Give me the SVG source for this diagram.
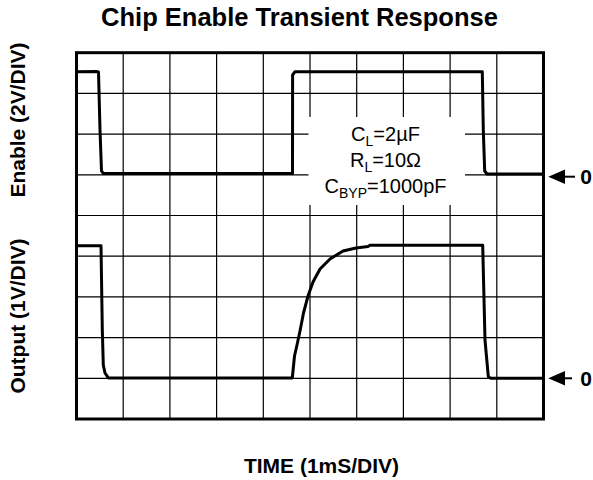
<svg xmlns="http://www.w3.org/2000/svg" width="593" height="480" viewBox="0 0 593 480">
<style>
.bold{font-family:"Liberation Sans",Arial,sans-serif;font-weight:bold;fill:#000}
.reg{font-family:"Liberation Sans",Arial,sans-serif;fill:#000}
.grid{stroke:#000;stroke-width:1.2;fill:none}
.frame{stroke:#000;stroke-width:3;fill:none}
.trace{stroke:#000;stroke-width:3;fill:none;stroke-linejoin:round;stroke-linecap:round}
.arr{stroke:#000;stroke-width:2;fill:none}
.head{fill:#000;stroke:none}
</style>
<rect width="593" height="480" fill="#fff"/>
<g id="title"><text class="bold" x="299.5" y="26" font-size="25.5" text-anchor="middle">Chip Enable Transient Response</text></g>
<g id="grid">
<path class="grid" d="M123.2,52.7V419M169.9,52.7V419M216.6,52.7V419M263.3,52.7V419M310,52.7V419M356.7,52.7V419M403.4,52.7V419M450.1,52.7V419M496.8,52.7V419"/>
<path class="grid" d="M76.5,93.4H543.5M76.5,134.1H543.5M76.5,174.8H543.5M76.5,215.5H543.5M76.5,256.2H543.5M76.5,296.9H543.5M76.5,337.6H543.5M76.5,378.3H543.5"/>
</g>
<g id="legend">
<rect x="308.5" y="117" width="156.5" height="88" fill="#fff"/>
<text class="reg" x="385.5" y="141" font-size="20" text-anchor="middle">C<tspan font-size="14" dy="5">L</tspan><tspan dy="-5">=2µF</tspan></text>
<text class="reg" x="385.5" y="167" font-size="20" text-anchor="middle">R<tspan font-size="14" dy="5">L</tspan><tspan dy="-5">=10Ω</tspan></text>
<text class="reg" x="385.5" y="193" font-size="20" text-anchor="middle">C<tspan font-size="14" dy="5">BYP</tspan><tspan dy="-5">=1000pF</tspan></text>
</g>
<g id="frame"><rect class="frame" x="76.5" y="52.7" width="467" height="366.3"/></g>
<g id="traces">
<path id="enable" class="trace" d="M76.5,71.7 L96,71.5 L98.5,72 L100,130 L101.5,171 L103.5,173.6 L292.5,173.6 L292.6,75 L295,71.7 L482.3,71.7 L483.3,130 L484.7,171 L487,174 L543.5,174"/>
<path id="output" class="trace" d="M76.5,245.7 L101,245.7 L102.3,330 L103.3,365 L105,373 L108.3,377.9 L292.3,377.9 L294.5,356 L297,345 L300,331 L303.5,313 L308,296 L313,282 L320,269 L330,259 L343,251 L356,248 L368,246.5 L370,245.2 L482.7,245.2 L485,340 L488.3,376.7 L490.7,378.3 L543.5,378.3"/>
</g>
<g id="zero-enable">
<path class="head" d="M548.3,176.7 L565,169.5 L565,184 Z"/>
<path class="arr" d="M563,176.7 H575"/>
<text class="bold" x="586" y="184" font-size="21" text-anchor="middle">0</text>
</g>
<g id="zero-output">
<path class="head" d="M548.3,378.3 L565,371 L565,385.5 Z"/>
<path class="arr" d="M563,378.3 H572"/>
<text class="bold" x="586" y="386" font-size="21" text-anchor="middle">0</text>
</g>
<g id="axis-labels">
<text class="bold" x="25" y="120" font-size="21" text-anchor="middle" transform="rotate(-90 25 120)">Enable (2V/DIV)</text>
<text class="bold" x="25" y="316" font-size="21" text-anchor="middle" transform="rotate(-90 25 316)">Output (1V/DIV)</text>
<text class="bold" x="321.5" y="472.5" font-size="21" text-anchor="middle">TIME (1mS/DIV)</text>
</g>
</svg>
